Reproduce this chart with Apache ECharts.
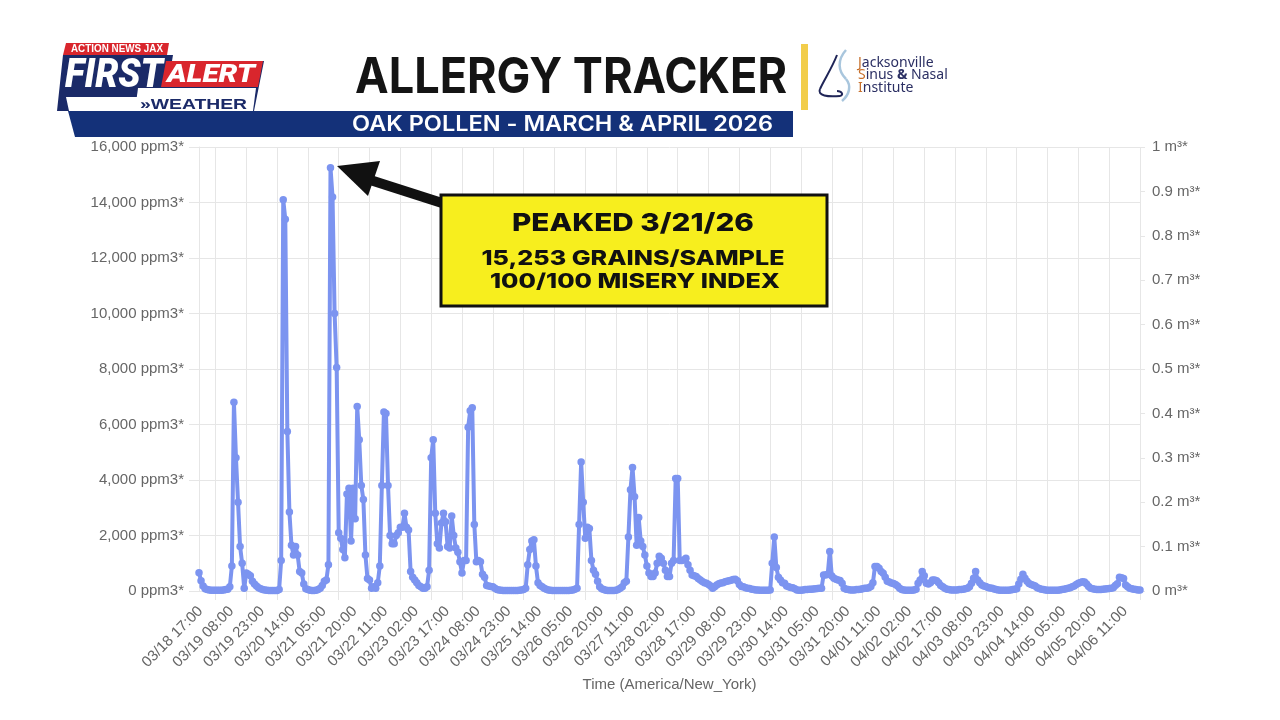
<!DOCTYPE html>
<html><head><meta charset="utf-8">
<script src="https://cdn.jsdelivr.net/npm/echarts@6/dist/echarts.min.js"></script>
<style>html,body{margin:0;padding:0;background:#fff}#c{width:1280px;height:720px}</style>
</head><body><div id="c"></div>
<script>
// Hourly oak pollen readings, 03/18 09:00 .. 04/06 11:00 (America/New_York)
const startHourUTC = [2026, 2, 18, 9];
const pollen = [
660,370,180,80,50,40,30,30,30,30,
30,30,40,50,60,150,900,6800,4800,3200,
1600,1000,100,650,600,550,350,250,180,120,
80,50,40,30,20,20,20,20,20,50,
1100,14100,13400,5750,2850,1650,1300,1600,1300,700,
650,250,80,50,30,20,20,30,50,100,
200,350,400,950,15253,14200,10000,8050,2100,1900,
1500,1200,3500,3700,1800,3700,2600,6650,5450,3800,
3300,1300,450,400,100,150,100,300,900,3800,
6450,6400,3800,2000,1700,1700,2000,2100,2300,2300,
2800,2300,2200,700,500,400,300,200,150,100,
100,150,750,4800,5450,2800,1700,1550,2450,2800,
2500,1600,1550,2700,2000,1550,1400,1050,650,1100,
1100,5900,6500,6600,2400,1050,1100,1050,600,500,
200,180,160,150,100,50,40,30,20,20,
20,20,20,20,20,20,30,40,50,100,
950,1500,1800,1850,900,300,200,150,100,60,
40,30,20,20,20,20,20,20,20,20,
20,30,40,60,100,2400,4650,3200,1900,2300,
2250,1100,750,600,350,150,80,50,30,20,
20,20,20,30,50,100,150,300,350,1950,
3650,4450,3400,1650,2650,1800,1600,1300,900,650,
520,520,650,1000,1250,1180,1000,750,520,520,
1000,1100,4050,4050,1100,1100,1120,1180,950,750,
580,550,520,450,400,340,300,280,230,180,
100,150,220,260,290,300,330,350,370,390,
410,420,370,230,160,150,120,100,90,60,
50,40,40,30,30,30,30,30,40,1000,
1950,850,500,400,300,280,180,150,130,120,
80,40,30,30,40,50,50,60,60,70,
80,90,100,100,580,580,600,1420,540,460,
420,400,380,280,100,60,50,40,40,40,
50,50,60,80,100,100,120,160,300,880,
880,820,700,640,500,350,320,290,270,230,
180,100,50,40,30,30,30,30,40,60,
280,400,700,550,280,250,300,400,400,370,
300,200,150,100,60,50,40,40,40,40,
50,50,60,80,100,150,280,460,700,400,
300,220,180,160,130,110,100,70,50,40,
30,30,30,30,30,40,50,60,80,250,
420,600,460,350,270,230,210,180,120,90,
60,50,40,30,30,30,30,30,30,40,
50,60,80,100,120,150,180,230,280,310,
330,320,250,160,100,80,60,50,50,50,
60,70,80,90,100,120,200,260,500,480,
450,220,150,100,80,60,50,40,40
];
const tickLabels = ['03/18 17:00','03/19 08:00','03/19 23:00','03/20 14:00','03/21 05:00','03/21 20:00','03/22 11:00','03/23 02:00','03/23 17:00','03/24 08:00','03/24 23:00','03/25 14:00','03/26 05:00','03/26 20:00','03/27 11:00','03/28 02:00','03/28 17:00','03/29 08:00','03/29 23:00','03/30 14:00','03/31 05:00','03/31 20:00','04/01 11:00','04/02 02:00','04/02 17:00','04/03 08:00','04/03 23:00','04/04 14:00','04/05 05:00','04/05 20:00','04/06 11:00'];
const leftAxis = {min: 0, max: 16000, interval: 2000, unit: ' ppm3*'};
const rightAxis = {min: 0, max: 1, interval: 0.1, unit: ' m³*'};
const titleText = 'ALLERGY TRACKER';
const subtitleText = 'OAK POLLEN - MARCH & APRIL 2026';
const calloutLines = ['PEAKED 3/21/26', '15,253 GRAINS/SAMPLE', '100/100 MISERY INDEX'];

const p2 = n => String(n).padStart(2, '0');
const categories = [];
const t0 = Date.UTC(startHourUTC[0], startHourUTC[1], startHourUTC[2], startHourUTC[3]);
for (let i = 0; i < pollen.length; i++) {
  const d = new Date(t0 + i * 3600000);
  categories.push(p2(d.getUTCMonth() + 1) + '/' + p2(d.getUTCDate()) + ' ' + p2(d.getUTCHours()) + ':00');
}
const tickSet = new Set(tickLabels);
const isTick = (idx) => tickSet.has(categories[idx]);

const mctx = document.createElement('canvas').getContext('2d');
function fitScale(text, font, w) { mctx.font = font; return w / mctx.measureText(text).width; }
function T(x, y, text, font, fill, w, align) {
  align = align || 'left';
  return {type: 'text', x: x, y: y, z: 100, scaleX: w ? fitScale(text, font, w) : 1,
    style: {text: text, font: font, fill: fill, align: align, textAlign: align, verticalAlign: 'middle', textVerticalAlign: 'middle'}};
}
function B(p, stroke, lw) {
  return {type: 'bezierCurve', z: 100, shape: {x1: p[0], y1: p[1], cpx1: p[2], cpy1: p[3], cpx2: p[4], cpy2: p[5], x2: p[6], y2: p[7]},
    style: {fill: null, stroke: stroke, lineWidth: lw}};
}
function P(points, fill) { return {type: 'polygon', z: 100, shape: {points: points}, style: {fill: fill}}; }

const NAVY = '#1B2A68', BAND = '#143179', RED = '#D9262D', YEL = '#F7EE1E';
const fFirst = 'italic 900 41px Roboto', fAlert = 'italic 900 26px Roboto';
const fTitle = '700 49px Inter', fSub = '600 21px Inter';
const fC1 = '800 25px Inter', fC2 = '800 20.5px Inter', fC3 = '800 20px Inter';

const graphic = [
  P([[66,43],[169,43],[167,55],[63,55]], RED),
  P([[63,55],[173,55],[172,61],[264,61],[254,111],[57,111]], NAVY),
  P([[66,97],[139,97],[137,111],[69,111]], '#fff'),
  P([[138,88],[256,88],[253,111],[135,111]], '#fff'),
  P([[166,61],[263,61],[258,87],[161,87]], RED),
  T(71, 49.7, 'ACTION NEWS JAX', 'bold 10px "Liberation Sans"', '#fff', 92),
  T(65, 77, 'FIRST', fFirst, '#fff', 98),
  T(167, 75, 'ALERT', fAlert, '#fff', 88),
  T(140, 104.7, '»WEATHER', 'bold 14px "Liberation Sans"', NAVY, 107),
  P([[68,111],[793,111],[793,137],[75,137]], BAND),
  T(352, 125, subtitleText, fSub, '#fff', 421),
  T(355, 78, titleText, fTitle, '#141414', 432),
  {type: 'rect', z: 100, shape: {x: 801, y: 44, width: 7, height: 66}, style: {fill: '#F2CD4A'}},
  B([837,55, 832,68, 824,80, 820,89], '#1F2557', 2),
  B([820,89, 817,96, 828,97, 840,96], '#1F2557', 2),
  B([840,96, 844,95, 842,91, 837,91], '#1F2557', 2),
  B([846,50, 837,60, 838,71, 846,79], '#A9C6DD', 2.5),
  B([846,79, 852,86, 849,95, 842,101], '#A9C6DD', 2.5),
  {type: 'text', z: 100, x: 858, y: 75.5, style: {
    text: '{o|J}{n|acksonville}\n{o|S}{n|inus }{b|&}{n| Nasal}\n{o|I}{n|nstitute}',
    verticalAlign: 'middle', textVerticalAlign: 'middle', align: 'left', textAlign: 'left',
    rich: {
      o: {fill: '#C76F2A', color: '#C76F2A', fontSize: 14, fontFamily: 'Noto Sans', lineHeight: 12.5},
      n: {fill: '#2B2F63', color: '#2B2F63', fontSize: 14, fontFamily: 'Noto Sans', lineHeight: 12.5},
      b: {fill: '#2B2F63', color: '#2B2F63', fontSize: 14, fontWeight: 'bold', fontFamily: 'Noto Sans', lineHeight: 12.5}
    }}},
  {type: 'line', z: 100, shape: {x1: 364, y1: 178, x2: 442, y2: 203}, style: {stroke: '#111', lineWidth: 10}},
  P([[337,166],[380,161],[368,196]], '#111'),
  {type: 'rect', z: 100, shape: {x: 441, y: 195, width: 386, height: 111}, style: {fill: YEL, stroke: '#111', lineWidth: 3}},
  T(633, 223, calloutLines[0], fC1, '#111', 242, 'center'),
  T(633, 258.5, calloutLines[1], fC2, '#111', 303, 'center'),
  T(635, 281.5, calloutLines[2], fC3, '#111', 290, 'center')
];

const AX = {color: '#666', fontSize: 15, fontFamily: '"Liberation Sans", Arial, sans-serif'};
const GRID = '#E6E6E6';
const chart = echarts.init(document.getElementById('c'), null, {renderer: 'canvas'});
chart.setOption({
  animation: false,
  backgroundColor: '#fff',
  grid: {left: 199, right: 140, top: 147, bottom: 129},
  xAxis: {
    type: 'category', data: categories, boundaryGap: false,
    name: 'Time (America/New_York)', nameLocation: 'middle', nameGap: 83,
    nameTextStyle: AX,
    axisLine: {show: true, lineStyle: {color: GRID}},
    axisTick: {show: true, interval: isTick, length: 9, lineStyle: {color: GRID}},
    splitLine: {show: true, interval: isTick, lineStyle: {color: GRID}},
    axisLabel: Object.assign({interval: isTick, rotate: 45, margin: 3, padding: [0, 21, 0, 0]}, AX)
  },
  yAxis: [{
    type: 'value', min: leftAxis.min, max: leftAxis.max, interval: leftAxis.interval,
    axisLine: {show: true, lineStyle: {color: GRID}},
    axisTick: {show: true, length: 10, lineStyle: {color: GRID}},
    splitLine: {show: true, lineStyle: {color: GRID}},
    axisLabel: Object.assign({margin: 15, formatter: v => v.toLocaleString('en-US') + leftAxis.unit}, AX)
  }, {
    type: 'value', position: 'right', min: rightAxis.min, max: rightAxis.max, interval: rightAxis.interval,
    axisLine: {show: false},
    axisTick: {show: true, length: 5, lineStyle: {color: GRID}},
    splitLine: {show: false},
    axisLabel: Object.assign({margin: 12, formatter: v => (Math.round(v * 10) / 10) + rightAxis.unit}, AX)
  }],
  series: [{
    type: 'line', data: pollen, yAxisIndex: 0, symbol: 'circle', symbolSize: 7.5, showAllSymbol: true,
    lineStyle: {width: 4, color: '#7C94F0'}, itemStyle: {color: '#7C94F0'}, z: 2
  }],
  graphic: graphic
});
</script></body></html>
